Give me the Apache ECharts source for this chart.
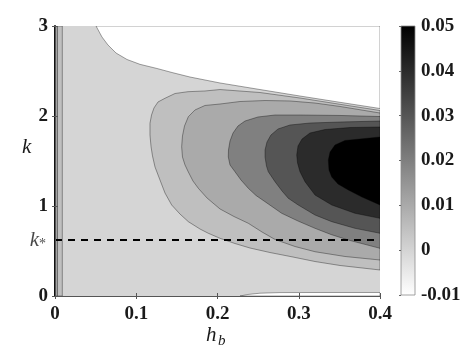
<!DOCTYPE html>
<html><head><meta charset="utf-8">
<script src="https://cdn.jsdelivr.net/npm/echarts/dist/echarts.min.js"></script>
<style>html,body{margin:0;padding:0;background:#fff}#c{width:472px;height:354px}</style>
</head><body><div id="c"></div>
<script>
// ---- axes / ticks ----
const xTicks = [0, 0.1, 0.2, 0.3, 0.4];
const yTicks = [0, 1, 2, 3];
const cbTicks = [-0.01, 0, 0.01, 0.02, 0.03, 0.04, 0.05];
const kStar = 0.622;

// ---- contour levels (lower bound of each filled band) ----
const mainLevel = 0;          // background band [0, 0.005)
const whiteLevel = -0.01;     // band below 0
// white region top-right (h_b, k)
const whiteTop = [[0.0505,3],[0.0578,2.878],[0.0652,2.789],[0.0751,2.700],[0.0886,2.628],[0.1046,2.574],[0.1255,2.528],[0.1440,2.483],[0.1662,2.433],[0.2031,2.367],[0.2523,2.294],[0.3015,2.222],[0.3508,2.152],[0.4,2.083],[0.4,3]];
// white sliver at bottom
const whiteBottom = [[0.2277,0],[0.2375,0.017],[0.2523,0.031],[0.2769,0.038],[0.3262,0.039],[0.4,0.039],[0.4,0]];
// contour 0.005
const c005 = [[0.4,2.061],[0.3508,2.130],[0.3015,2.200],[0.2523,2.261],[0.2031,2.294],[0.1846,2.278],[0.1637,2.270],[0.1477,2.250],[0.1354,2.197],[0.1268,2.156],[0.1218,2.089],[0.1188,2.011],[0.1169,1.919],[0.1169,1.789],[0.1182,1.659],[0.1200,1.556],[0.1231,1.433],[0.1292,1.289],[0.1354,1.144],[0.1436,1.011],[0.1538,0.911],[0.1641,0.826],[0.1785,0.744],[0.1887,0.697],[0.2031,0.641],[0.2215,0.583],[0.2400,0.533],[0.2646,0.483],[0.2929,0.433],[0.3200,0.383],[0.3508,0.339],[0.4,0.289]];
// contour 0.01
const c01 = [[0.4,2.033],[0.3508,2.106],[0.3200,2.144],[0.2892,2.167],[0.2585,2.172],[0.2277,2.161],[0.2031,2.133],[0.1846,2.117],[0.1723,2.067],[0.1641,1.992],[0.1594,1.889],[0.1569,1.778],[0.1559,1.659],[0.1569,1.544],[0.1600,1.456],[0.1641,1.378],[0.1698,1.278],[0.1764,1.197],[0.1871,1.089],[0.2031,0.967],[0.2203,0.883],[0.2379,0.808],[0.2548,0.711],[0.2708,0.628],[0.2954,0.550],[0.3200,0.492],[0.3569,0.439],[0.4,0.400]];
// contour 0.02
const c02 = [[0.4,1.994],[0.3508,2.006],[0.3015,2.011],[0.2708,2.011],[0.2498,1.989],[0.2338,1.944],[0.2252,1.889],[0.2191,1.811],[0.2154,1.722],[0.2135,1.622],[0.2133,1.544],[0.2154,1.456],[0.2215,1.381],[0.2289,1.289],[0.2379,1.197],[0.2474,1.117],[0.2585,1.048],[0.2790,0.919],[0.2991,0.833],[0.3200,0.752],[0.3397,0.683],[0.3610,0.622],[0.4,0.530]];
// contour 0.03
const c03 = [[0.4,1.944],[0.3508,1.933],[0.3138,1.922],[0.2892,1.900],[0.2745,1.856],[0.2658,1.789],[0.2609,1.711],[0.2585,1.622],[0.2585,1.544],[0.2603,1.444],[0.2625,1.381],[0.2708,1.270],[0.2794,1.167],[0.2871,1.086],[0.2994,1.011],[0.3200,0.900],[0.3406,0.826],[0.3692,0.752],[0.4,0.697]];
// contour 0.04
const c04 = [[0.4,1.878],[0.3631,1.872],[0.3323,1.850],[0.3138,1.811],[0.3040,1.744],[0.2991,1.667],[0.2975,1.567],[0.2985,1.478],[0.3015,1.381],[0.3077,1.270],[0.3200,1.122],[0.3406,1.011],[0.3692,0.919],[0.4,0.863]];
// contour 0.05
const c05 = [[0.4,1.767],[0.3754,1.744],[0.3569,1.728],[0.3446,1.678],[0.3385,1.600],[0.3364,1.511],[0.3372,1.400],[0.3406,1.322],[0.3483,1.244],[0.3610,1.178],[0.3778,1.100],[0.4,1.011]];
// thin strip next to h_b = 0
const stripEdges = [0, 0.003, 0.009];
const stripLevels = [0.01, 0.005];

const cbMin = -0.01, cbMax = 0.05;
function grayOf(level){
  let v = 1 - (level - cbMin) / (cbMax - cbMin);
  v = Math.max(0, Math.min(1, v));
  const c = Math.round(v * 255);
  return 'rgb(' + c + ',' + c + ',' + c + ')';
}

const regions = [
  {pts: whiteTop, level: whiteLevel},
  {pts: whiteBottom, level: whiteLevel},
  {pts: c005, level: 0.005},
  {pts: c01, level: 0.01},
  {pts: c02, level: 0.02},
  {pts: c03, level: 0.03},
  {pts: c04, level: 0.04},
  {pts: c05, level: 0.05}
];
for (let i = 0; i < stripLevels.length; i++) {
  const a = stripEdges[i], b = stripEdges[i + 1];
  regions.push({pts: [[a, 0], [b, 0], [b, 3], [a, 3]], level: stripLevels[i]});
}

function polySeries(r){
  return {
    type: 'custom', coordinateSystem: 'cartesian2d', xAxisIndex: 0, yAxisIndex: 0,
    clip: true, silent: true, data: [0], z: 2,
    renderItem: function(params, api){
      return {type: 'polygon', shape: {points: r.pts.map(p => api.coord(p))},
        style: {fill: grayOf(r.level), stroke: 'rgba(0,0,0,0.6)', lineWidth: 0.6}};
    }
  };
}

const labelFont = {fontFamily: 'Liberation Serif', fontWeight: 'bold', fontSize: 19, color: '#1a1a1a'};
const fmt = v => { const r = Math.round(v * 1000) / 1000; return r === 0 ? '0' : String(r); };
const axisGray = '#555';

const chart = echarts.init(document.getElementById('c'), null, {renderer: 'canvas'});
const series = regions.map(polySeries);
series.push({
  type: 'line', xAxisIndex: 0, yAxisIndex: 0, silent: true, symbol: 'none', z: 5,
  data: [[xTicks[0], kStar], [xTicks[xTicks.length - 1], kStar]],
  lineStyle: {color: '#000', width: 2, type: [7, 6]}
});
series.push({
  type: 'scatter', xAxisIndex: 0, yAxisIndex: 0, silent: true, symbolSize: 0, z: 6,
  data: [[0, kStar]],
  label: {show: true, position: 'left', distance: 9, formatter: '{k|k}{s|*}',
    rich: {k: {fontFamily: 'Liberation Serif', fontStyle: 'italic', fontSize: 21, color: '#1a1a1a', verticalAlign: 'middle', lineHeight: 22},
           s: {fontFamily: 'Liberation Serif', fontSize: 14, color: '#1a1a1a', verticalAlign: 'bottom', lineHeight: 10, padding: [6, 0, 0, 0]}}}
});
series.push({
  type: 'custom', coordinateSystem: 'cartesian2d', xAxisIndex: 2, yAxisIndex: 2, silent: true, data: [0],
  renderItem: function(params, api){
    const a = api.coord([0, cbMin]), b = api.coord([1, cbMax]);
    return {type: 'rect', shape: {x: a[0], y: b[1], width: b[0] - a[0], height: a[1] - b[1]},
      style: {fill: new echarts.graphic.LinearGradient(0, 0, 0, 1, [{offset: 0, color: '#000'}, {offset: 1, color: '#fff'}]),
              stroke: '#8a8a8a', lineWidth: 0.8}};
  }
});

chart.setOption({
  animation: false,
  backgroundColor: '#fff',
  grid: [
    {left: 55, top: 26, width: 325, height: 270, show: true, backgroundColor: grayOf(mainLevel), borderWidth: 0},
    {left: 401, top: 26, width: 14, height: 269}
  ],
  xAxis: [
    {type: 'value', gridIndex: 0, min: xTicks[0], max: xTicks[xTicks.length - 1], interval: 0.1, position: 'bottom', z: 10,
     axisLine: {show: true, lineStyle: {color: axisGray, width: 1}},
     axisTick: {show: true, inside: true, length: 3, lineStyle: {color: axisGray}},
     axisLabel: Object.assign({margin: 9, formatter: fmt}, labelFont), splitLine: {show: false}},
    {type: 'value', gridIndex: 0, min: xTicks[0], max: xTicks[xTicks.length - 1], interval: 0.1, position: 'top', z: 10,
     axisLine: {show: true, lineStyle: {color: axisGray, width: 1}},
     axisTick: {show: true, inside: true, length: 3, lineStyle: {color: axisGray}},
     axisLabel: {show: false}, splitLine: {show: false}},
    {type: 'value', gridIndex: 1, min: 0, max: 1, show: false}
  ],
  yAxis: [
    {type: 'value', gridIndex: 0, min: yTicks[0], max: yTicks[yTicks.length - 1], interval: 1, position: 'left', z: 10,
     axisLine: {show: true, lineStyle: {color: '#111', width: 2}},
     axisTick: {show: true, inside: true, length: 3, lineStyle: {color: axisGray}},
     axisLabel: Object.assign({margin: 7, formatter: fmt}, labelFont), splitLine: {show: false}},
    {type: 'value', gridIndex: 0, min: yTicks[0], max: yTicks[yTicks.length - 1], interval: 1, position: 'right', z: 10,
     axisLine: {show: true, lineStyle: {color: axisGray, width: 1}},
     axisTick: {show: true, inside: true, length: 3, lineStyle: {color: axisGray}},
     axisLabel: {show: false}, splitLine: {show: false}},
    {type: 'value', gridIndex: 1, min: cbTicks[0], max: cbTicks[cbTicks.length - 1], interval: 0.01, position: 'right', z: 10,
     axisLine: {show: false},
     axisTick: {show: true, inside: true, length: 2, lineStyle: {color: '#666'}},
     axisLabel: Object.assign({margin: 6, formatter: fmt}, labelFont), splitLine: {show: false}}
  ],
  graphic: [
    {type: 'text', left: 22, top: 137, z: 20, style: {text: 'k', font: 'italic 21px "Liberation Serif"', fill: '#1a1a1a'}},
    {type: 'text', left: 206, top: 325, z: 20, style: {text: 'h', font: 'italic 21px "Liberation Serif"', fill: '#1a1a1a'}},
    {type: 'text', left: 218, top: 334, z: 20, style: {text: 'b', font: 'italic 15px "Liberation Serif"', fill: '#1a1a1a'}}
  ],
  series: series
});
</script>
</body></html>
